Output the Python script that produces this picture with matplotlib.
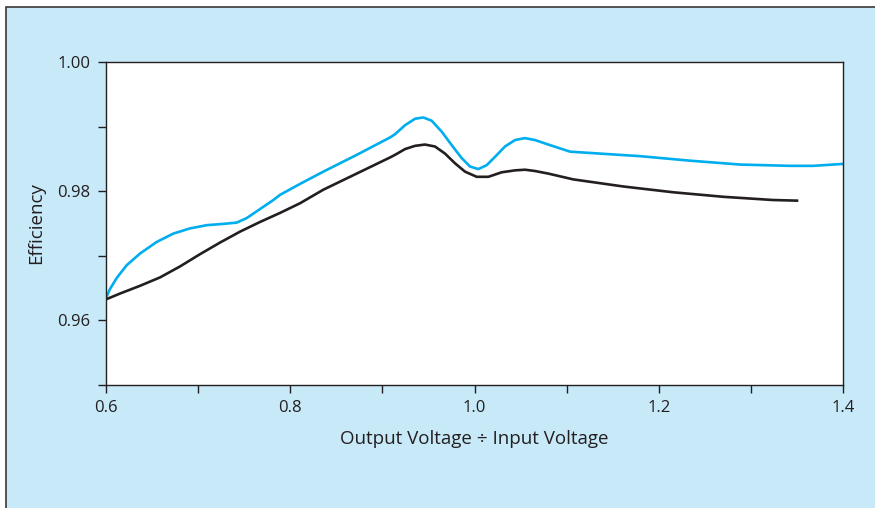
import matplotlib.pyplot as plt
from matplotlib.patches import Rectangle

# values
blue_x = [0.600, 0.6043, 0.6116, 0.6225, 0.6369, 0.6550, 0.6731, 0.6912, 0.7093, 0.7273,
          0.7419, 0.7527, 0.7672, 0.7816, 0.7889, 0.8106, 0.8359, 0.8721, 0.9083, 0.9137,
          0.9246, 0.9354, 0.9444, 0.9535, 0.9644, 0.9753, 0.9861, 0.9951, 1.0041, 1.0132,
          1.0223, 1.0331, 1.0440, 1.0548, 1.0657, 1.0801, 1.1037, 1.1362, 1.1797, 1.2340,
          1.2882, 1.3425, 1.3678, 1.4000]
blue_y = [0.9634, 0.9648, 0.9665, 0.9685, 0.9703, 0.9721, 0.9734, 0.9742, 0.9747, 0.9749,
          0.9751, 0.9758, 0.9772, 0.9786, 0.9794, 0.9811, 0.9830, 0.9856, 0.9883, 0.9888,
          0.9902, 0.9912, 0.9914, 0.9909, 0.9892, 0.9871, 0.9851, 0.9838, 0.9834, 0.9840,
          0.9853, 0.9869, 0.9879, 0.9882, 0.9879, 0.9872, 0.9861, 0.9858, 0.9854, 0.9847,
          0.9841, 0.9839, 0.9839, 0.9842]

black_x = [0.600, 0.6152, 0.6369, 0.6586, 0.6803, 0.7020, 0.7237, 0.7455, 0.7672, 0.7889,
           0.8106, 0.8359, 0.8721, 0.9083, 0.9137, 0.9246, 0.9354, 0.9462, 0.9571, 0.9680,
           0.9788, 0.9897, 1.0024, 1.0150, 1.0295, 1.0440, 1.0548, 1.0657, 1.0801, 1.1072,
           1.1615, 1.2158, 1.2701, 1.3243, 1.3515]
black_y = [0.9632, 0.9641, 0.9653, 0.9666, 0.9683, 0.9702, 0.9720, 0.9737, 0.9752, 0.9766,
           0.9781, 0.9802, 0.9827, 0.9852, 0.9856, 0.9865, 0.9870, 0.9872, 0.9869, 0.9858,
           0.9843, 0.9830, 0.9822, 0.9822, 0.9829, 0.9832, 0.9833, 0.9831, 0.9827, 0.9818,
           0.9807, 0.9798, 0.9791, 0.9786, 0.9785]

major_x = [0.6, 0.8, 1.0, 1.2, 1.4]
minor_x = [0.7, 0.9, 1.1, 1.3]
major_y = [0.96, 0.98, 1.00]
minor_y = [0.95, 0.97, 0.99]

dark = "#231f20"
plt.rcParams["font.family"] = ["Open Sans", "DejaVu Sans"]

fig = plt.figure(figsize=(8.75, 5.08), dpi=100)
fig.patch.set_facecolor("white")
fig.patches.append(Rectangle((6 / 875, -0.1), 1.0, 1 - 7 / 508 + 0.1,
                             transform=fig.transFigure, facecolor="#c7e9f8",
                             edgecolor="#3a3a3a", linewidth=1.2, zorder=-10))

ax = fig.add_axes([106 / 875, 1 - 384.5 / 508, 737 / 875, 322.5 / 508])
ax.set_facecolor("white")

ax.plot(blue_x, blue_y, color="#00aeef", lw=1.9, solid_joinstyle="round", solid_capstyle="butt")
ax.plot(black_x, black_y, color=dark, lw=1.9, solid_joinstyle="round", solid_capstyle="butt")

ax.set_xlim(0.6, 1.4)
ax.set_ylim(0.95, 1.00)
ax.set_xticks(major_x)
ax.set_xticklabels(["0.6", "0.8", "1.0", "1.2", "1.4"])
ax.set_xticks(minor_x, minor=True)
ax.set_yticks(major_y)
ax.set_yticklabels(["0.96", "0.98", "1.00"])
ax.set_yticks(minor_y, minor=True)

ax.tick_params(which="both", direction="out", length=6, width=1, color=dark,
               labelsize=12, labelcolor=dark)
ax.tick_params(axis="x", pad=5)
ax.tick_params(axis="y", pad=5)
for s in ax.spines.values():
    s.set_color(dark)
    s.set_linewidth(1.0)

ax.set_xlabel("Output Voltage \u00f7 Input Voltage", fontsize=13.5, color=dark, labelpad=10)
ax.set_ylabel("Efficiency", fontsize=13.5, color=dark, labelpad=9)

fig.savefig("out.png", dpi=100)
